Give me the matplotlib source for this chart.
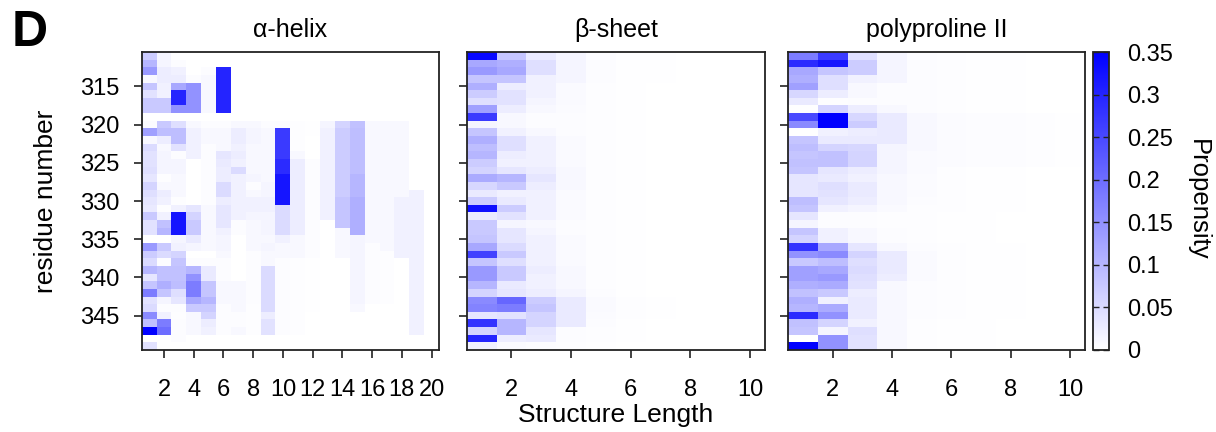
import numpy as np
import matplotlib
matplotlib.use("Agg")
import matplotlib.pyplot as plt
from matplotlib.colors import LinearSegmentedColormap

plt.rcParams["font.family"] = ["Liberation Sans", "DejaVu Sans"]

# ── data ──────────────────────────────────────────────────────────────────────
residues = list(range(311, 350))          # 39 rows, top to bottom
helix_lengths = list(range(1, 21))
short_lengths = list(range(1, 11))

panel_titles = ["α-helix", "β-sheet", "polyproline II"]
helix_ticks = [2, 4, 6, 8, 10, 12, 14, 16, 18, 20]
short_ticks = [2, 4, 6, 8, 10]
residue_ticks = [315, 320, 325, 330, 335, 340, 345]
cbar_ticks = [0, 0.05, 0.1, 0.15, 0.2, 0.25, 0.3, 0.35]
cbar_labels = ["0", "0.05", "0.1", "0.15", "0.2", "0.25", "0.3", "0.35"]

# propensity, one row per residue, one column per structure length
helix = [
    [0.07, 0.015, 0, 0, 0, 0, 0, 0, 0, 0, 0, 0, 0, 0, 0, 0, 0, 0, 0, 0],
    [0.10, 0.015, 0.005, 0, 0, 0, 0, 0, 0, 0, 0, 0, 0, 0, 0, 0, 0, 0, 0, 0],
    [0.14, 0.025, 0.02, 0, 0.005, 0.30, 0, 0, 0, 0, 0, 0, 0, 0, 0, 0, 0, 0, 0, 0],
    [0.01, 0.025, 0.025, 0.005, 0.01, 0.30, 0, 0, 0, 0, 0, 0, 0, 0, 0, 0, 0, 0, 0, 0],
    [0.08, 0.02, 0.12, 0.15, 0.01, 0.30, 0, 0, 0, 0, 0, 0, 0, 0, 0, 0, 0, 0, 0, 0],
    [0.04, 0.02, 0.30, 0.15, 0.01, 0.30, 0, 0, 0, 0, 0, 0, 0, 0, 0, 0, 0, 0, 0, 0],
    [0.075, 0.075, 0.30, 0.15, 0.01, 0.30, 0, 0, 0, 0, 0, 0, 0, 0, 0, 0, 0, 0, 0, 0],
    [0.075, 0.075, 0.15, 0.15, 0.01, 0.30, 0, 0, 0, 0, 0, 0, 0, 0, 0, 0, 0, 0, 0, 0],
    [0, 0, 0, 0, 0, 0, 0, 0, 0, 0, 0, 0, 0, 0, 0, 0, 0, 0, 0, 0],
    [0.005, 0.075, 0.045, 0.01, 0.005, 0.005, 0.01, 0.01, 0.005, 0.005, 0.003, 0.002, 0.015, 0.06, 0.085, 0.01, 0.01, 0.01, 0, 0],
    [0.13, 0.09, 0.09, 0.02, 0.01, 0.01, 0.025, 0.015, 0.01, 0.27, 0.003, 0.002, 0.02, 0.07, 0.09, 0.01, 0.01, 0.01, 0, 0],
    [0.01, 0.025, 0.09, 0.02, 0.01, 0.01, 0.025, 0.015, 0.01, 0.27, 0.003, 0, 0.02, 0.07, 0.09, 0.01, 0.01, 0.01, 0, 0],
    [0.05, 0.01, 0.04, 0.02, 0.005, 0.01, 0.02, 0.01, 0.01, 0.27, 0.003, 0, 0.02, 0.07, 0.09, 0.01, 0.01, 0.01, 0, 0],
    [0.04, 0.015, 0.005, 0.02, 0.005, 0.035, 0.025, 0.01, 0.01, 0.27, 0.01, 0, 0.02, 0.07, 0.09, 0.01, 0.01, 0.01, 0, 0],
    [0.04, 0.015, 0.015, 0, 0.005, 0.03, 0.02, 0.01, 0.01, 0.29, 0.025, 0.005, 0.02, 0.07, 0.09, 0.01, 0.01, 0.01, 0, 0],
    [0.045, 0.015, 0.015, 0, 0.005, 0.025, 0.05, 0.01, 0.01, 0.29, 0.025, 0.005, 0.02, 0.07, 0.09, 0.01, 0.01, 0.01, 0, 0],
    [0.035, 0.003, 0.01, 0, 0.005, 0.025, 0.02, 0.015, 0.01, 0.32, 0.025, 0.005, 0.02, 0.07, 0.10, 0.01, 0.01, 0.01, 0, 0],
    [0.06, 0.01, 0.01, 0, 0.005, 0.05, 0.02, 0.005, 0.015, 0.32, 0.025, 0.005, 0.02, 0.07, 0.10, 0.01, 0.01, 0.01, 0, 0],
    [0.045, 0.025, 0.01, 0, 0.005, 0.05, 0.02, 0.01, 0.015, 0.32, 0.025, 0.005, 0.02, 0.07, 0.10, 0.01, 0.01, 0.01, 0.02, 0],
    [0.035, 0.02, 0.003, 0, 0.005, 0.025, 0.02, 0.02, 0.02, 0.32, 0.025, 0.005, 0.02, 0.08, 0.11, 0.01, 0.01, 0.02, 0.02, 0],
    [0.03, 0.003, 0.02, 0.035, 0.01, 0.035, 0.02, 0.02, 0.02, 0.05, 0.025, 0.005, 0.02, 0.08, 0.11, 0.01, 0.01, 0.02, 0.02, 0],
    [0.075, 0.02, 0.32, 0.06, 0.01, 0.035, 0.02, 0.015, 0.015, 0.05, 0.025, 0.005, 0.02, 0.08, 0.11, 0.01, 0.01, 0.02, 0.02, 0],
    [0.04, 0.085, 0.32, 0.075, 0.01, 0.035, 0.005, 0.01, 0.015, 0.05, 0.025, 0.005, 0, 0.08, 0.11, 0.01, 0.01, 0.02, 0.02, 0],
    [0.04, 0.10, 0.32, 0.075, 0.01, 0.02, 0.005, 0.01, 0.015, 0.05, 0.025, 0.005, 0, 0.01, 0.11, 0.01, 0.01, 0.02, 0.02, 0],
    [0, 0, 0.015, 0.03, 0.01, 0.015, 0, 0.01, 0.01, 0.02, 0.01, 0.005, 0, 0.01, 0.015, 0.01, 0.01, 0.02, 0.02, 0],
    [0.14, 0.075, 0.02, 0.015, 0.01, 0.015, 0, 0.01, 0.015, 0.01, 0.01, 0.005, 0, 0.01, 0.015, 0.005, 0.01, 0.02, 0.02, 0],
    [0.07, 0.05, 0.06, 0, 0, 0.01, 0, 0.005, 0.01, 0.01, 0.01, 0.005, 0, 0.01, 0.015, 0.005, 0.003, 0.02, 0.02, 0],
    [0.05, 0.005, 0.08, 0.005, 0.005, 0.005, 0, 0.005, 0.01, 0.005, 0.003, 0.002, 0, 0, 0.015, 0.005, 0.003, 0, 0.02, 0],
    [0.10, 0.085, 0.085, 0.10, 0.03, 0.005, 0, 0.005, 0.05, 0.005, 0.003, 0.002, 0, 0, 0.015, 0.005, 0.003, 0, 0.02, 0],
    [0.035, 0.085, 0.085, 0.15, 0.03, 0.005, 0, 0.005, 0.05, 0.005, 0.003, 0.002, 0, 0, 0.015, 0.005, 0.003, 0, 0.02, 0],
    [0.08, 0.11, 0.09, 0.18, 0.08, 0.01, 0.01, 0.005, 0.05, 0.005, 0.003, 0.002, 0, 0, 0.015, 0.005, 0.003, 0, 0.02, 0],
    [0.18, 0.08, 0.045, 0.18, 0.08, 0.01, 0.01, 0.005, 0.05, 0.005, 0.003, 0.002, 0, 0, 0.015, 0.005, 0.003, 0, 0.02, 0],
    [0.04, 0.015, 0.035, 0.12, 0.10, 0.01, 0.01, 0.005, 0.05, 0.005, 0.003, 0.002, 0, 0, 0.015, 0.005, 0.003, 0, 0.02, 0],
    [0.05, 0.005, 0.005, 0.075, 0.075, 0.005, 0.01, 0.003, 0.05, 0.005, 0.003, 0.002, 0, 0, 0.01, 0, 0, 0, 0.02, 0],
    [0.16, 0.02, 0.003, 0.01, 0.06, 0.005, 0.005, 0.003, 0.025, 0.005, 0.003, 0, 0, 0, 0, 0, 0, 0, 0.02, 0],
    [0.09, 0.18, 0.005, 0.01, 0.025, 0.005, 0.005, 0.003, 0.04, 0.005, 0.003, 0, 0, 0, 0, 0, 0, 0, 0.02, 0],
    [0.35, 0.20, 0.005, 0.01, 0.02, 0.005, 0.01, 0.003, 0.04, 0.005, 0.003, 0, 0, 0, 0, 0, 0, 0, 0.02, 0],
    [0, 0, 0.005, 0, 0, 0, 0, 0, 0, 0, 0, 0, 0, 0, 0, 0, 0, 0, 0, 0],
    [0.04, 0, 0, 0, 0, 0, 0, 0, 0, 0, 0, 0, 0, 0, 0, 0, 0, 0, 0, 0],
]

beta = [
    [0.34, 0.08, 0.03, 0.015, 0.005, 0.002, 0.002, 0.001, 0.001, 0.001],
    [0.12, 0.11, 0.045, 0.015, 0.005, 0.002, 0.002, 0.001, 0.001, 0.001],
    [0.14, 0.12, 0.045, 0.015, 0.005, 0.002, 0.002, 0.001, 0.001, 0.001],
    [0.08, 0.08, 0.02, 0.015, 0.005, 0.002, 0.002, 0.001, 0.001, 0.001],
    [0.11, 0.025, 0.02, 0.008, 0.004, 0.002, 0.001, 0.001, 0.001, 0.001],
    [0.07, 0.04, 0.02, 0.008, 0.004, 0.002, 0.001, 0.001, 0.001, 0.001],
    [0.045, 0.04, 0.015, 0.008, 0.004, 0.002, 0.001, 0.001, 0.001, 0.001],
    [0.13, 0.025, 0.01, 0.006, 0.003, 0.002, 0.001, 0.001, 0.001, 0.001],
    [0.27, 0.01, 0.005, 0.005, 0.003, 0.002, 0.001, 0.001, 0.001, 0.001],
    [0.015, 0.01, 0.005, 0.005, 0.003, 0.002, 0.001, 0.001, 0.001, 0.001],
    [0.08, 0.02, 0.01, 0.005, 0.003, 0.002, 0.001, 0.001, 0.001, 0.001],
    [0.11, 0.045, 0.02, 0.008, 0.003, 0.002, 0.001, 0.001, 0.001, 0.001],
    [0.09, 0.045, 0.02, 0.008, 0.003, 0.002, 0.001, 0.001, 0.001, 0.001],
    [0.10, 0.025, 0.02, 0.008, 0.003, 0.002, 0.001, 0.001, 0.001, 0.001],
    [0.07, 0.02, 0.02, 0.008, 0.003, 0.002, 0.001, 0.001, 0.001, 0.001],
    [0.06, 0.035, 0.025, 0.01, 0.004, 0.002, 0.001, 0.001, 0.001, 0.001],
    [0.115, 0.10, 0.035, 0.01, 0.004, 0.002, 0.001, 0.001, 0.001, 0.001],
    [0.055, 0.075, 0.025, 0.01, 0.004, 0.002, 0.001, 0.001, 0.001, 0.001],
    [0.03, 0.02, 0.02, 0.008, 0.003, 0.002, 0.001, 0.001, 0.001, 0.001],
    [0.07, 0.03, 0.02, 0.008, 0.003, 0.002, 0.001, 0.001, 0.001, 0.001],
    [0.33, 0.07, 0.02, 0.008, 0.003, 0.002, 0.001, 0.001, 0.001, 0.001],
    [0.03, 0.04, 0.02, 0.008, 0.003, 0.002, 0.001, 0.001, 0.001, 0.001],
    [0.075, 0.015, 0.01, 0.005, 0.003, 0.002, 0.001, 0.001, 0.001, 0.001],
    [0.075, 0.035, 0.015, 0.005, 0.003, 0.002, 0.001, 0.001, 0.001, 0.001],
    [0.08, 0.035, 0.02, 0.008, 0.003, 0.002, 0.001, 0.001, 0.001, 0.001],
    [0.12, 0.05, 0.02, 0.008, 0.003, 0.002, 0.001, 0.001, 0.001, 0.001],
    [0.26, 0.075, 0.02, 0.008, 0.003, 0.002, 0.001, 0.001, 0.001, 0.001],
    [0.08, 0.045, 0.02, 0.008, 0.003, 0.002, 0.001, 0.001, 0.001, 0.001],
    [0.14, 0.075, 0.025, 0.01, 0.004, 0.002, 0.001, 0.001, 0.001, 0.001],
    [0.14, 0.075, 0.02, 0.01, 0.004, 0.002, 0.001, 0.001, 0.001, 0.001],
    [0.10, 0.03, 0.02, 0.01, 0.004, 0.002, 0.001, 0.001, 0.001, 0.001],
    [0.06, 0.035, 0.025, 0.015, 0.005, 0.002, 0.001, 0.001, 0.001, 0.001],
    [0.16, 0.21, 0.07, 0.03, 0.008, 0.003, 0.002, 0.001, 0.001, 0.001],
    [0.17, 0.18, 0.08, 0.03, 0.008, 0.003, 0.002, 0.001, 0.001, 0.001],
    [0.035, 0.04, 0.06, 0.03, 0.006, 0.003, 0.002, 0.001, 0.001, 0.001],
    [0.28, 0.10, 0.06, 0.03, 0.005, 0.002, 0.001, 0.001, 0.001, 0.001],
    [0.06, 0.10, 0.035, 0.005, 0.003, 0.002, 0.001, 0.001, 0.001, 0.001],
    [0.30, 0.025, 0.03, 0.005, 0.003, 0.002, 0.001, 0.001, 0.001, 0.001],
    [0.02, 0.008, 0.005, 0.003, 0.002, 0.001, 0.001, 0.001, 0.001, 0.001],
]

ppii = [
    [0.18, 0.27, 0.045, 0.015, 0.005, 0.003, 0.002, 0.002, 0.001, 0.001],
    [0.29, 0.32, 0.07, 0.015, 0.005, 0.003, 0.002, 0.002, 0.001, 0.001],
    [0.12, 0.08, 0.07, 0.015, 0.005, 0.003, 0.002, 0.002, 0.001, 0.001],
    [0.11, 0.045, 0.02, 0.015, 0.005, 0.003, 0.002, 0.002, 0.001, 0.001],
    [0.13, 0.045, 0.01, 0.005, 0.005, 0.003, 0.002, 0.002, 0.001, 0.001],
    [0.055, 0.025, 0.01, 0.005, 0.005, 0.003, 0.002, 0.002, 0.001, 0.001],
    [0.03, 0.003, 0.005, 0.005, 0.005, 0.003, 0.002, 0.002, 0.001, 0.001],
    [0.002, 0.06, 0.025, 0.01, 0.005, 0.003, 0.002, 0.002, 0.001, 0.001],
    [0.25, 0.35, 0.055, 0.03, 0.01, 0.006, 0.005, 0.005, 0.004, 0.002],
    [0.16, 0.35, 0.07, 0.03, 0.01, 0.006, 0.005, 0.005, 0.004, 0.002],
    [0.002, 0.02, 0.025, 0.03, 0.01, 0.006, 0.005, 0.005, 0.004, 0.002],
    [0.08, 0.03, 0.03, 0.03, 0.01, 0.006, 0.005, 0.005, 0.004, 0.002],
    [0.09, 0.06, 0.055, 0.015, 0.01, 0.006, 0.005, 0.005, 0.004, 0.002],
    [0.08, 0.085, 0.06, 0.015, 0.008, 0.006, 0.005, 0.005, 0.004, 0.002],
    [0.085, 0.085, 0.06, 0.015, 0.008, 0.006, 0.005, 0.005, 0.004, 0.002],
    [0.08, 0.035, 0.025, 0.015, 0.008, 0.003, 0.002, 0.002, 0.001, 0.001],
    [0.035, 0.03, 0.02, 0.01, 0.006, 0.003, 0.002, 0.002, 0.001, 0.001],
    [0.035, 0.045, 0.03, 0.01, 0.006, 0.003, 0.002, 0.002, 0.001, 0.001],
    [0.035, 0.04, 0.03, 0.01, 0.006, 0.003, 0.002, 0.002, 0.001, 0.001],
    [0.09, 0.035, 0.025, 0.01, 0.005, 0.003, 0.002, 0.002, 0.001, 0.001],
    [0.08, 0.02, 0.015, 0.008, 0.004, 0.003, 0.002, 0.002, 0.001, 0.001],
    [0.035, 0.005, 0.005, 0.004, 0.003, 0.002, 0.002, 0.001, 0.001, 0.001],
    [0.015, 0.005, 0.005, 0.004, 0.003, 0.002, 0.002, 0.001, 0.001, 0.001],
    [0.08, 0.02, 0.01, 0.005, 0.003, 0.002, 0.002, 0.001, 0.001, 0.001],
    [0.06, 0.02, 0.01, 0.005, 0.003, 0.002, 0.002, 0.001, 0.001, 0.001],
    [0.28, 0.12, 0.035, 0.01, 0.005, 0.003, 0.002, 0.002, 0.001, 0.001],
    [0.15, 0.16, 0.06, 0.03, 0.008, 0.003, 0.002, 0.002, 0.001, 0.001],
    [0.075, 0.09, 0.045, 0.03, 0.008, 0.003, 0.002, 0.002, 0.001, 0.001],
    [0.13, 0.12, 0.05, 0.03, 0.008, 0.003, 0.002, 0.002, 0.001, 0.001],
    [0.13, 0.14, 0.045, 0.025, 0.008, 0.003, 0.002, 0.002, 0.001, 0.001],
    [0.11, 0.115, 0.04, 0.01, 0.005, 0.003, 0.002, 0.002, 0.001, 0.001],
    [0.085, 0.075, 0.025, 0.01, 0.005, 0.003, 0.002, 0.002, 0.001, 0.001],
    [0.11, 0.02, 0.03, 0.01, 0.005, 0.003, 0.002, 0.002, 0.001, 0.001],
    [0.10, 0.115, 0.03, 0.01, 0.005, 0.003, 0.002, 0.002, 0.001, 0.001],
    [0.29, 0.15, 0.03, 0.01, 0.005, 0.003, 0.002, 0.002, 0.001, 0.001],
    [0.085, 0.06, 0.02, 0.01, 0.004, 0.002, 0.002, 0.001, 0.001, 0.001],
    [0.08, 0.015, 0.045, 0.01, 0.004, 0.002, 0.002, 0.001, 0.001, 0.001],
    [0.0, 0.15, 0.04, 0.01, 0.004, 0.002, 0.002, 0.001, 0.001, 0.001],
    [0.35, 0.15, 0.04, 0.01, 0.004, 0.002, 0.002, 0.001, 0.001, 0.001],
]

# ── figure ────────────────────────────────────────────────────────────────────
W, H = 1216, 432
fig = plt.figure(figsize=(W / 100, H / 100), dpi=100)
cmap = LinearSegmentedColormap.from_list("wb", ["#ffffff", "#0000ff"])
VMAX = 0.35

bottom = 1 - 350 / H
height = (350 - 52) / H
panels = [
    (141.7, 297.3, helix, helix_lengths, helix_ticks),
    (466.7, 298.3, beta, short_lengths, short_ticks),
    (788.3, 296.7, ppii, short_lengths, short_ticks),
]

axes = []
for i, (left, width, data, lengths, xt) in enumerate(panels):
    ax = fig.add_axes([left / W, bottom, width / W, height])
    arr = np.array(data)
    x_edges = np.arange(len(lengths) + 1) + 0.5
    y_edges = np.arange(len(residues) + 1) + residues[0] - 0.5
    im = ax.pcolormesh(x_edges, y_edges, arr, cmap=cmap, vmin=0, vmax=VMAX,
                       shading="flat")
    ax.set_xlim(x_edges[0], x_edges[-1])
    ax.set_ylim(y_edges[-1], y_edges[0])
    ax.set_xticks(xt)
    ax.set_yticks(residue_ticks)
    ax.tick_params(axis="both", length=6, width=1.2, color="#222222",
                   labelsize=17)
    ax.tick_params(axis="x", pad=15)
    ax.tick_params(axis="y", pad=10)
    if i > 0:
        ax.set_yticklabels([])
    for s in ax.spines.values():
        s.set_linewidth(1.3)
        s.set_color("#222222")
    ax.set_title(panel_titles[i], fontsize=18, pad=11)
    axes.append(ax)

axes[0].set_ylabel("residue number", fontsize=19, labelpad=16)
axes[1].set_xlabel("Structure Length", fontsize=19, labelpad=1)

cax = fig.add_axes([1093 / W, bottom, 16 / W, height])
cb = fig.colorbar(im, cax=cax, ticks=cbar_ticks)
cb.ax.set_yticklabels(cbar_labels)
cb.ax.tick_params(direction="in", left=True, right=True, length=4, width=1,
                  color="#222222", labelsize=17, pad=13)
cb.outline.set_linewidth(1.3)
cb.outline.set_edgecolor("#222222")
fig.text(1198 / W, 1 - 200 / H, "Propensity", rotation=270, ha="center",
         va="center", fontsize=18.5)

fig.text(12 / W, 1 - 10 / H, "D", fontsize=36, fontweight="bold",
         ha="left", va="top")

fig.savefig("out.png", dpi=100)
